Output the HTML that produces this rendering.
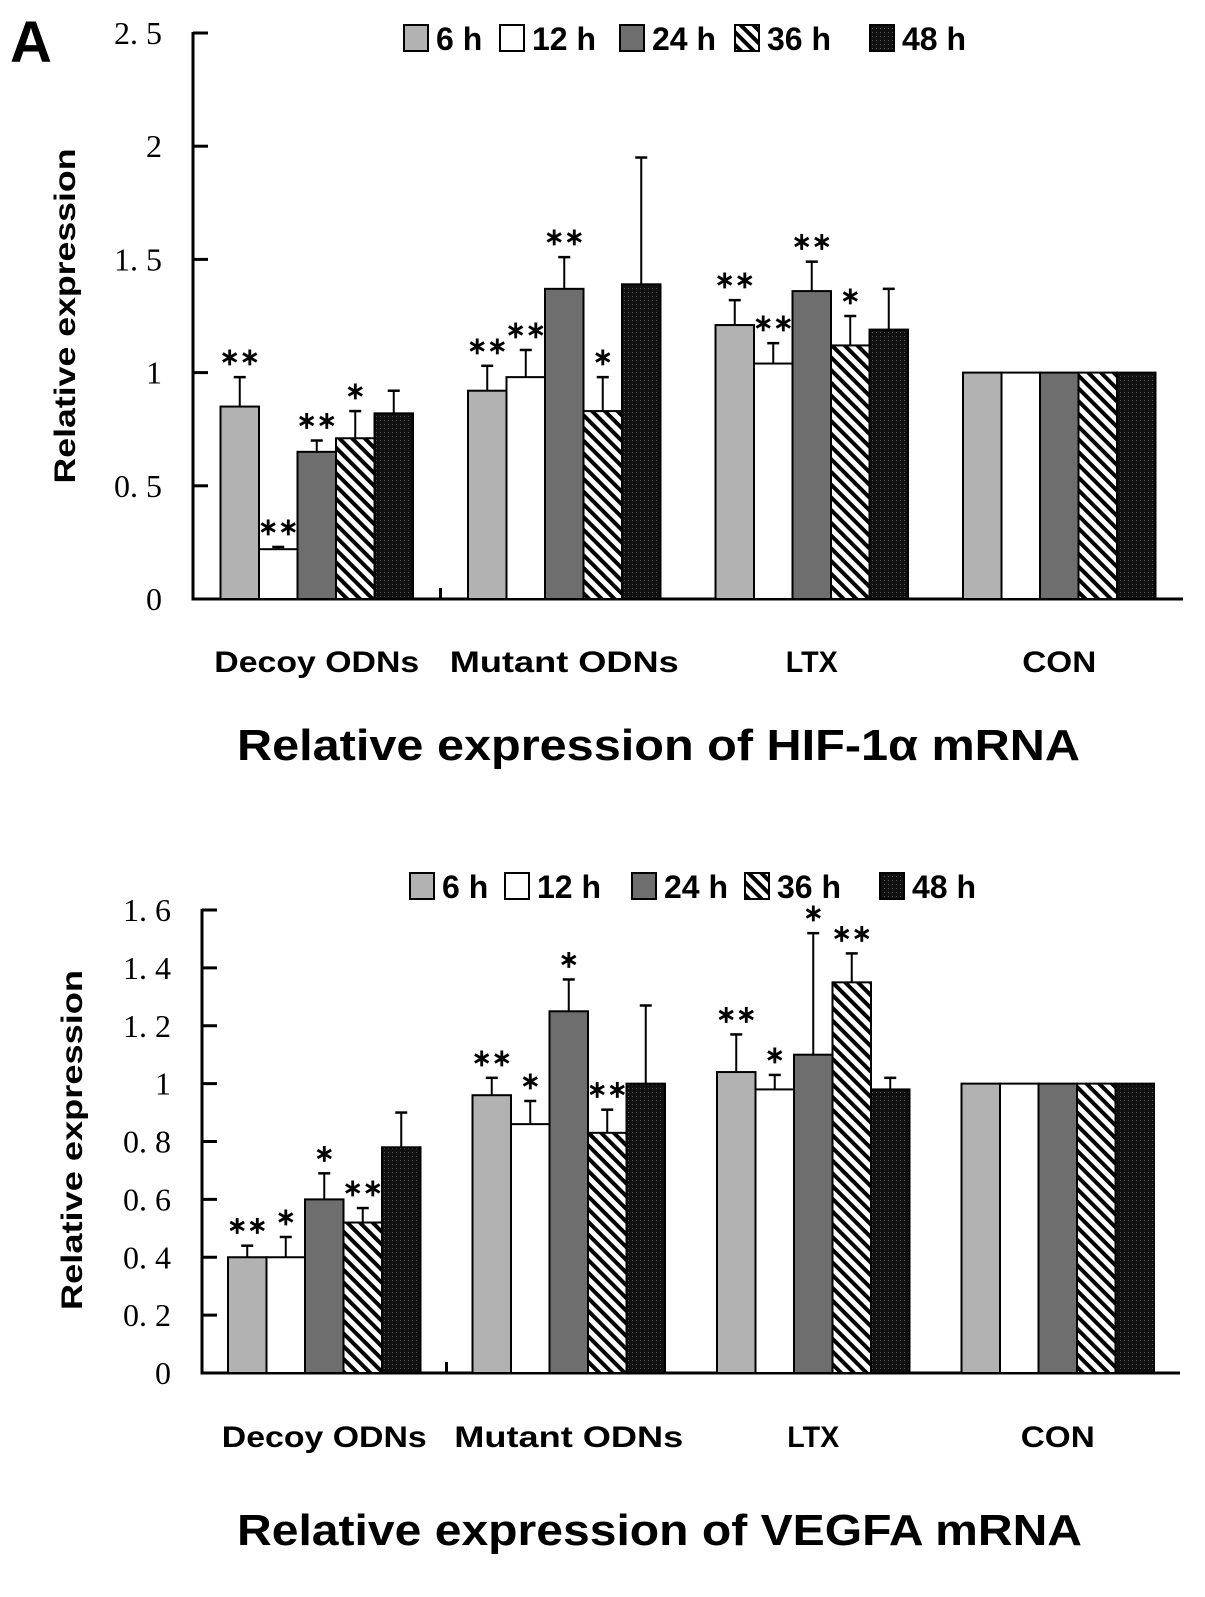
<!DOCTYPE html>
<html><head><meta charset="utf-8"><style>
body{margin:0;background:#fff;}
svg{display:block;}
.tick{font-family:"Liberation Serif",serif;font-size:32px;fill:#000;}
.b{font-family:"Liberation Sans",sans-serif;font-weight:bold;fill:#000;}
</style></head><body>
<svg id="fig" width="1205" height="1597" viewBox="0 0 1205 1597" xmlns="http://www.w3.org/2000/svg">
<defs>
<pattern id="stripe" patternUnits="userSpaceOnUse" width="9" height="9" patternTransform="rotate(-45)">
<rect width="9" height="9" fill="#fff"/><rect width="4" height="9" fill="#000"/></pattern>
<pattern id="dots" patternUnits="userSpaceOnUse" width="4" height="4">
<rect width="4" height="4" fill="#111"/><rect width="1" height="1" fill="#555"/></pattern>
</defs>
<text x="10" y="62" class="b" font-size="58">A</text>
</svg>
<script>
const series = ["6 h","12 h","24 h","36 h","48 h"];
const categories = ["Decoy ODNs","Mutant ODNs","LTX","CON"];
const hifValues = [[0.85,0.22,0.65,0.71,0.82],[0.92,0.98,1.37,0.83,1.39],[1.21,1.04,1.36,1.12,1.19],[1,1,1,1,1]];
const hifErrors = [[0.13,0.01,0.05,0.12,0.10],[0.11,0.12,0.14,0.15,0.56],[0.11,0.09,0.13,0.13,0.18],[0,0,0,0,0]];
const hifStars = [["**","**","**","*",""],["**","**","**","*",""],["**","**","**","*",""],["","","","",""]];
const hifTicks = ["0","0. 5","1","1. 5","2","2. 5"];
const vegValues = [[0.40,0.40,0.60,0.52,0.78],[0.96,0.86,1.25,0.83,1.00],[1.04,0.98,1.10,1.35,0.98],[1,1,1,1,1]];
const vegErrors = [[0.04,0.07,0.09,0.05,0.12],[0.06,0.08,0.11,0.08,0.27],[0.13,0.05,0.42,0.10,0.04],[0,0,0,0,0]];
const vegStars = [["**","*","*","**",""],["**","*","*","**",""],["**","*","*","**",""],["","","","",""]];
const vegTicks = ["0","0. 2","0. 4","0. 6","0. 8","1","1. 2","1. 4","1. 6"];
const fills = ["#b2b2b2","#ffffff","#6e6e6e","url(#stripe)","url(#dots)"];
const catLens = [205,229,52,74];
const NS="http://www.w3.org/2000/svg";
const svg=document.getElementById('fig');
function mk(tag,attrs,parent,text){const e=document.createElementNS(NS,tag);for(const k in attrs)e.setAttribute(k,attrs[k]);if(text!==undefined)e.textContent=text;(parent||svg).appendChild(e);return e;}
function chart(o){
  const g=mk('g',{});
  
  
  const y=v=>o.y0-(v/o.max)*(o.y0-o.yTop);
  const band=(o.xEnd-o.x0)/categories.length;
  const bw=38.5;
  const ax=mk('line',{x1:o.x0,y1:o.yTop-1,x2:o.x0,y2:o.y0+1.5,stroke:'#000','stroke-width':3},g);
  
  const xa=mk('line',{x1:o.x0,y1:o.y0,x2:o.xEnd,y2:o.y0,stroke:'#000','stroke-width':3},g);
  
  o.ticks.forEach((t,i)=>{
    const v=i*o.step, yy=y(v);
    mk('line',{x1:o.x0,y1:yy,x2:o.x0+15,y2:yy,stroke:'#000','stroke-width':3},g);
    const tx=mk('text',{x:o.x0-31,y:yy+11,'text-anchor':'end',class:'tick'},g,t);
    
  });
  mk('line',{x1:o.x0+band,y1:o.y0,x2:o.x0+band,y2:o.y0-11,stroke:'#000','stroke-width':3},g);
  categories.forEach((c,ci)=>{
    const cx=o.x0+band*(ci+0.5);
    const cl=mk('text',{x:cx-catLens[ci]/2,y:o.catY,class:'b','font-size':30,textLength:catLens[ci],lengthAdjust:'spacingAndGlyphs'},g,c);
    
    series.forEach((s,si)=>{
      const x=cx+(si-2.5)*bw, v=o.values[ci][si], e=o.errors[ci][si];
      if(e>0){
        mk('line',{x1:x+bw/2,y1:y(v),x2:x+bw/2,y2:y(v+e),stroke:'#000','stroke-width':2},g);
        mk('line',{x1:x+bw/2-6,y1:y(v+e),x2:x+bw/2+6,y2:y(v+e),stroke:'#000','stroke-width':2.5},g);
      }
      const r=mk('rect',{x:x,y:y(v),width:bw,height:o.y0-y(v),fill:fills[si],stroke:'#000','stroke-width':2},g);
      
      const st=o.stars[ci][si];
      if(st){const t=mk('text',{x:x+bw/2,y:y(v+e)-12,'text-anchor':'middle',class:'b','font-size':24,'letter-spacing':0},g,st.replace(/\*/g,'∗'));
        }
    });
  });
  const yt=mk('text',{x:-o.ytLen/2,y:0,transform:`translate(${o.ytX},${o.ytY}) rotate(-90)`,class:'b','font-size':30,textLength:o.ytLen,lengthAdjust:'spacingAndGlyphs'},g,'Relative expression');
  
  const tt=mk('text',{x:o.titleX,y:o.titleY,class:'b','font-size':44,textLength:o.titleLen,lengthAdjust:'spacingAndGlyphs'},g,o.title);
  
  series.forEach((s,si)=>{
    const lx=o.legX[si];
    const lg=mk('g',{},g);
    
    mk('rect',{x:lx,y:o.legY-13,width:24,height:26,fill:fills[si],stroke:'#000','stroke-width':2},lg);
    mk('text',{x:lx+32,y:o.legY+12,class:'b','font-size':32},lg,s);
  });
}
chart({name:'hif-chart',x0:193,xEnd:1183,y0:599,yTop:33,max:2.5,step:0.5,ticks:hifTicks,values:hifValues,errors:hifErrors,stars:hifStars,catY:672,titleX:237,titleLen:843,titleY:760,title:'Relative expression of HIF-1α mRNA',ytX:75,ytY:316,ytLen:335,legX:[404,500,620,735,870],legY:38});
chart({name:'vegfa-chart',x0:202,xEnd:1180,y0:1373,yTop:910,max:1.6,step:0.2,ticks:vegTicks,values:vegValues,errors:vegErrors,stars:vegStars,catY:1447,titleX:237,titleLen:845,titleY:1545,title:'Relative expression of VEGFA mRNA',ytX:82,ytY:1140,ytLen:340,legX:[410,505,632,745,880],legY:886});
</script>
</body></html>
